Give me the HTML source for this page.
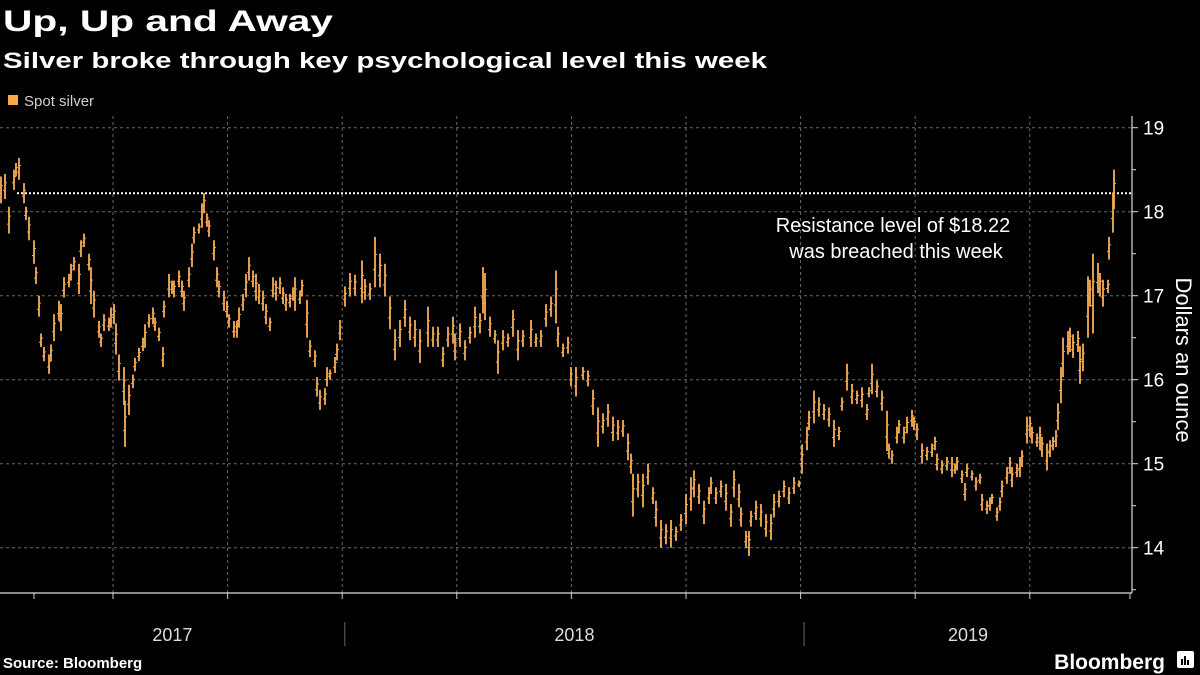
<!DOCTYPE html>
<html><head><meta charset="utf-8">
<style>
html,body{margin:0;padding:0;background:#000;}
svg{display:block;}
text{font-family:"Liberation Sans",sans-serif;}
</style></head>
<body>
<svg id="chart" width="1200" height="675" viewBox="0 0 1200 675" xmlns="http://www.w3.org/2000/svg">
<rect x="0" y="0" width="1200" height="675" fill="#000"/>
<text x="3" y="31" fill="#fff" font-size="30" font-weight="bold" textLength="330" lengthAdjust="spacingAndGlyphs">Up, Up and Away</text>
<text x="3" y="68" fill="#fff" font-size="22" font-weight="bold" textLength="764" lengthAdjust="spacingAndGlyphs">Silver broke through key psychological level this week</text>
<rect x="8" y="95" width="10" height="10" fill="#f9a845"/>
<text x="24" y="106" fill="#d0d0d0" font-size="15">Spot silver</text>
<g id="grid"></g>
<g id="bars"></g>
<g id="axes"></g>
<text x="893" y="232" fill="#fff" font-size="20" text-anchor="middle">Resistance level of $18.22</text>
<text x="896" y="258" fill="#fff" font-size="20" text-anchor="middle">was breached this week</text>
<text transform="translate(1176,360) rotate(90)" fill="#fff" font-size="22" text-anchor="middle">Dollars an ounce</text>
<text x="3" y="668" fill="#fff" font-size="15" font-weight="bold">Source: Bloomberg</text>
<text x="1165" y="669" fill="#fff" font-size="21" font-weight="bold" text-anchor="end">Bloomberg</text>
<g>
<rect x="1177" y="651" width="17" height="17" rx="2" fill="#fff"/>
<rect x="1181" y="659" width="2" height="6" fill="#000"/><rect x="1184" y="656" width="2" height="9" fill="#000"/><rect x="1187" y="660" width="2" height="5" fill="#000"/>
</g>
</svg>
<script>
const days = [0,3,6,10,12,14,18,20,22,26,28,30,32,34,38,40,42,46,48,50,54,56,58,62,64,66,70,72,74,78,80,82,86,88,90,92,94,98,99,102,105,107,110,113,115,118,121,123,126,129,130,134,136,138,142,144,146,150,152,154,158,160,162,164,166,170,172,174,178,180,182,186,188,190,193,195,198,201,203,206,209,211,214,217,219,222,225,227,230,233,234,238,240,244,246,250,252,254,258,260,262,266,268,270,274,278,282,288,290,294,298,302,306,310,314,318,322,326,330,334,340,344,348,352,356,360,362,366,370,374,378,382,384,386,390,394,396,400,404,408,412,416,422,426,430,434,438,442,444,448,452,454,458,464,468,472,476,480,484,488,492,496,500,502,504,508,512,516,520,522,526,530,534,538,542,546,550,552,556,560,564,566,570,574,578,582,584,588,590,594,596,598,602,606,610,614,616,620,624,628,632,636,638,642,644,648,652,656,660,664,668,670,674,678,682,686,690,692,694,698,702,706,708,710,714,716,720,722,726,728,730,734,738,742,744,746,750,754,758,760,762,766,768,770,774,777,780,782,786,788,790,794,796,798,802,804,806,810,812,814,818,820,822,826,828,830,834,836,838,841,842,845,846,850,852,854,858,860,862,866,868,870,874,876,878,882,883,886,887];
const lows = [18.10,18.15,17.74,18.26,18.42,18.38,18.10,17.90,17.66,17.38,17.14,16.75,16.39,16.22,16.07,16.22,16.46,16.70,16.58,16.98,17.10,17.18,17.30,17.02,17.46,17.58,17.30,16.90,16.74,16.50,16.39,16.58,16.58,16.62,16.66,16.30,15.99,15.70,15.20,15.58,15.90,16.10,16.22,16.34,16.38,16.62,16.66,16.58,16.46,16.15,16.74,16.98,17.02,16.98,17.10,16.98,16.82,17.10,17.34,17.62,17.74,17.81,17.98,17.82,17.70,17.42,17.10,16.98,16.82,16.74,16.62,16.50,16.50,16.62,16.82,16.98,17.18,17.10,16.94,16.90,16.82,16.66,16.58,16.98,16.94,17.02,16.90,16.82,16.86,16.94,16.82,16.90,16.99,16.50,16.27,16.15,15.80,15.64,15.70,15.92,16.00,16.08,16.23,16.47,16.87,16.99,17.00,16.91,16.95,16.95,17.10,17.10,16.99,16.60,16.23,16.39,16.63,16.47,16.39,16.20,16.39,16.39,16.39,16.15,16.39,16.43,16.23,16.39,16.23,16.43,16.50,16.55,16.79,16.71,16.51,16.43,16.07,16.35,16.39,16.51,16.23,16.39,16.39,16.39,16.39,16.63,16.75,16.67,16.39,16.27,16.31,15.92,15.80,16.00,15.92,15.58,15.20,15.36,15.44,15.27,15.28,15.32,15.04,14.88,14.37,14.60,14.48,14.75,14.52,14.25,14.00,14.04,14.00,14.08,14.20,14.28,14.44,14.60,14.52,14.28,14.52,14.64,14.52,14.60,14.44,14.25,14.60,14.48,14.25,14.00,13.90,14.25,14.33,14.25,14.13,14.09,14.36,14.48,14.60,14.52,14.64,14.72,14.88,15.16,15.40,15.48,15.56,15.52,15.44,15.20,15.28,15.63,15.87,15.71,15.71,15.67,15.52,15.79,15.83,15.79,15.63,15.15,15.06,15.00,15.24,15.36,15.24,15.36,15.44,15.40,15.28,15.00,15.04,15.08,15.16,14.92,14.88,14.92,14.84,14.88,14.92,14.77,14.56,14.84,14.80,14.68,14.76,14.44,14.40,14.44,14.52,14.32,14.44,14.60,14.76,14.88,14.72,14.84,14.84,14.96,15.24,15.32,15.24,15.20,15.16,15.08,14.92,15.08,15.16,15.20,15.40,15.72,16.03,16.30,16.33,16.26,16.33,15.95,16.10,16.50,16.87,16.55,17.03,16.99,16.87,17.03,17.43,17.75,18.03];
const highs = [18.42,18.45,18.06,18.50,18.58,18.64,18.34,18.06,17.94,17.66,17.34,17.00,16.55,16.39,16.30,16.42,16.78,16.94,16.90,17.22,17.26,17.38,17.46,17.38,17.66,17.74,17.50,17.34,17.06,16.70,16.55,16.78,16.74,16.86,16.90,16.67,16.30,16.15,15.75,15.94,16.06,16.26,16.38,16.50,16.66,16.78,16.86,16.74,16.62,16.39,16.94,17.26,17.18,17.18,17.30,17.18,17.06,17.34,17.62,17.82,17.86,18.10,18.22,17.98,17.90,17.66,17.34,17.18,17.06,16.94,16.78,16.70,16.70,16.86,17.02,17.26,17.46,17.30,17.26,17.14,17.06,16.90,16.74,17.22,17.18,17.22,17.10,17.02,17.02,17.10,17.22,17.06,17.19,16.95,16.47,16.35,16.03,15.88,15.90,16.15,16.12,16.27,16.43,16.71,17.11,17.27,17.25,17.42,17.20,17.15,17.70,17.50,17.38,16.99,16.60,16.71,16.95,16.75,16.71,16.60,16.87,16.63,16.63,16.39,16.63,16.75,16.55,16.67,16.47,16.63,16.87,16.79,17.34,17.27,16.75,16.59,16.47,16.59,16.55,16.83,16.59,16.59,16.71,16.55,16.59,16.90,16.99,17.30,16.63,16.43,16.51,16.15,16.15,16.15,16.11,15.88,15.67,15.60,15.71,15.56,15.52,15.52,15.36,15.12,14.88,14.88,14.88,15.00,14.72,14.56,14.33,14.28,14.33,14.25,14.40,14.64,14.84,14.92,14.76,14.56,14.72,14.84,14.72,14.80,14.76,14.52,14.92,14.76,14.48,14.20,14.20,14.44,14.56,14.52,14.40,14.40,14.64,14.68,14.80,14.72,14.84,14.80,15.23,15.44,15.63,15.87,15.79,15.71,15.67,15.52,15.44,15.79,16.19,15.95,15.87,15.91,15.71,15.91,16.19,15.99,15.87,15.63,15.24,15.16,15.44,15.52,15.44,15.56,15.64,15.56,15.48,15.24,15.20,15.24,15.32,15.12,15.04,15.08,15.08,15.00,15.08,14.92,14.77,15.00,14.92,14.84,14.88,14.64,14.56,14.60,14.64,14.48,14.60,14.80,14.96,15.08,14.96,15.00,15.08,15.16,15.56,15.56,15.44,15.36,15.44,15.32,15.24,15.28,15.32,15.40,15.72,16.15,16.50,16.58,16.62,16.54,16.58,16.40,16.43,17.23,17.19,17.50,17.39,17.27,17.19,17.19,17.70,18.23,18.50];
const yTicks = [14,15,16,17,18,19];
const yearLabels = ["2017","2018","2019"];
const yearStartDays = [-100,274,640];
const resistance = 18.22;

const NS = "http://www.w3.org/2000/svg";
const PX_PER_DAY = 458/365;
function xScale(d){ return 1 + d*PX_PER_DAY; }
function yScale(v){ return 211.7 - (v-18)*84; }
const AX_X = 1132, AX_BOTTOM = 593, PLOT_TOP = 116;
function mk(tag, attrs, parent){ const e=document.createElementNS(NS,tag); for(const k in attrs) e.setAttribute(k,attrs[k]); parent.appendChild(e); return e; }

const grid = document.getElementById('grid');
yTicks.forEach(v=>{
  const l = mk('line',{x1:0,x2:AX_X,y1:yScale(v),y2:yScale(v),stroke:'#6a6a6a','stroke-width':1,'stroke-dasharray':'3,3'},grid);
  
  
});
for(let i=1;i<=9;i++){
  const gx = 113 + (i-1)*114.6;
  const l = mk('line',{x1:gx,x2:gx,y1:PLOT_TOP,y2:AX_BOTTOM,stroke:'#6a6a6a','stroke-width':1,'stroke-dasharray':'3,3'},grid);
  
  
  const t = mk('line',{x1:gx,x2:gx,y1:AX_BOTTOM,y2:AX_BOTTOM+6,stroke:'#ccc','stroke-width':1},grid);
  
  
}
[34,1130].forEach(gx=>{
  const t = mk('line',{x1:gx,x2:gx,y1:AX_BOTTOM,y2:AX_BOTTOM+6,stroke:'#ccc','stroke-width':1},grid);
  
  
});
const res = mk('line',{x1:17,x2:AX_X,y1:yScale(resistance),y2:yScale(resistance),stroke:'#fff','stroke-width':2,'stroke-dasharray':'2,2'},grid);



const bars = document.getElementById('bars');
days.forEach((d,i)=>{
  const x = Math.round(xScale(d));
  const b = mk('line',{x1:x,x2:x,y1:yScale(highs[i]),y2:yScale(lows[i]),stroke:'#f7ad55','stroke-width':1.8},bars);
  
  
  const o = yScale(lows[i] + (highs[i]-lows[i])*0.35);
  const c = yScale(lows[i] + (highs[i]-lows[i])*0.65);
  const tl = mk('line',{x1:x-2,x2:x,y1:o,y2:o,stroke:'#f7ad55','stroke-width':1},bars);
  
  
  const tr = mk('line',{x1:x,x2:x+2,y1:c,y2:c,stroke:'#f7ad55','stroke-width':1},bars);
  
  
});

const axes = document.getElementById('axes');
const ya = mk('line',{x1:AX_X,x2:AX_X,y1:PLOT_TOP,y2:AX_BOTTOM,stroke:'#ddd','stroke-width':1.2},axes);


const xa = mk('line',{x1:0,x2:AX_X,y1:AX_BOTTOM,y2:AX_BOTTOM,stroke:'#ddd','stroke-width':1.2},axes);


for(let v=13.5; v<=19.01; v+=0.5){
  const major = Math.abs(v-Math.round(v))<0.01;
  const t = mk('line',{x1:AX_X,x2:AX_X+(major?6:4),y1:yScale(v),y2:yScale(v),stroke:'#ddd','stroke-width':1},axes);
  
  
}
yTicks.forEach(v=>{
  const t = mk('text',{x:1143,y:yScale(v)+7,fill:'#fff','font-size':19},axes);
  t.textContent = String(v);
  
  
});
yearLabels.forEach((lab,i)=>{
  const start = Math.max(0,xScale(yearStartDays[i]));
  const end = i<yearLabels.length-1 ? xScale(yearStartDays[i+1]) : AX_X;
  const t = mk('text',{x:(start+end)/2,y:641,fill:'#ddd','font-size':18,'text-anchor':'middle'},axes);
  t.textContent = lab;
  
  
  if(i>0){
    const s = mk('line',{x1:start,x2:start,y1:622,y2:646,stroke:'#666','stroke-width':1},axes);
    
    
  }
});
</script>
</body></html>
